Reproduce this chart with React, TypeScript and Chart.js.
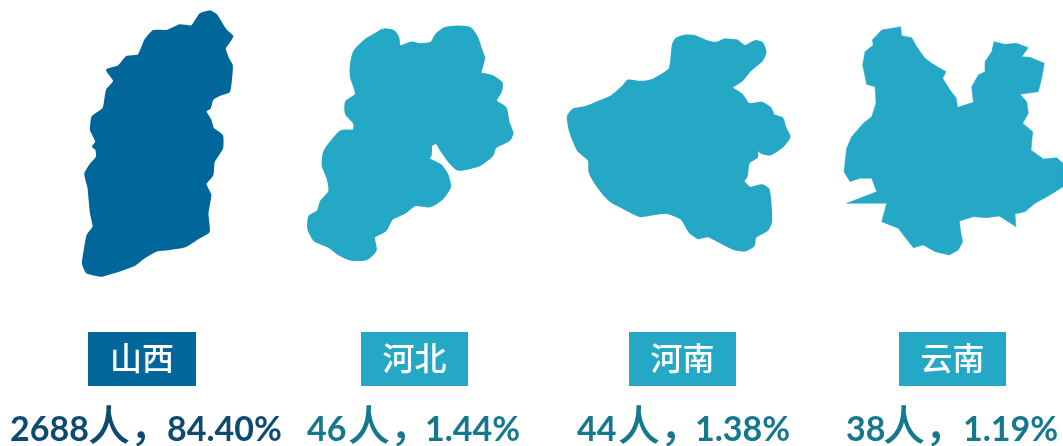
import React, { useEffect, useRef } from "react";
import { Chart, registerables } from "chart.js";

Chart.register(...registerables);

const provinces = ["山西", "河北", "河南", "云南"];
const counts = ["2688", "46", "44", "38"];
const units = ["人，", "人，", "人，", "人，"];
const percents = ["84.40%", "1.44%", "1.38%", "1.19%"];

type P = [number, number];
const shanxi: P[] = [[450,33],[470,45],[485,70],[500,92],[518,108],[505,130],[495,145],[505,175],[516,195],[515,225],[508,275],[480,285],[458,298],[450,325],[437,333],[452,360],[460,385],[487,407],[487,445],[462,485],[458,525],[437,552],[452,585],[443,640],[447,695],[415,715],[375,740],[330,748],[290,752],[250,775],[225,795],[170,815],[125,828],[80,818],[68,790],[75,740],[82,705],[100,680],[92,640],[88,600],[85,565],[75,522],[90,495],[110,470],[108,448],[98,440],[108,425],[92,390],[97,350],[130,325],[140,270],[162,243],[140,210],[175,198],[200,170],[235,165],[255,120],[280,92],[320,92],[360,75],[395,78],[420,42]];
const hebei: P[] = [[265,45],[295,50],[308,70],[312,97],[350,85],[375,90],[410,85],[425,60],[450,42],[490,37],[525,42],[545,70],[555,100],[565,130],[555,175],[590,185],[618,205],[615,230],[600,258],[630,280],[638,320],[650,355],[640,375],[600,395],[590,420],[550,450],[490,462],[465,440],[440,405],[425,382],[407,390],[405,420],[398,432],[435,452],[455,480],[463,515],[440,550],[405,572],[360,568],[330,590],[290,610],[270,645],[235,665],[240,705],[215,730],[170,732],[130,715],[105,695],[60,675],[42,640],[45,605],[70,590],[80,560],[105,530],[100,490],[85,450],[90,410],[115,375],[140,350],[177,348],[180,325],[155,295],[155,262],[185,238],[170,185],[170,150],[180,110],[215,75]];
const henan: P[] = [[375,33],[405,35],[440,50],[470,55],[495,45],[530,48],[555,65],[585,50],[605,55],[615,80],[605,105],[570,135],[545,165],[515,188],[545,210],[565,238],[605,235],[630,250],[640,272],[665,280],[675,310],[687,335],[665,365],[630,387],[605,382],[588,368],[590,395],[565,412],[558,455],[548,468],[570,490],[605,482],[625,495],[632,590],[620,615],[585,635],[580,660],[555,675],[520,670],[480,650],[445,632],[415,638],[390,620],[365,580],[320,562],[275,567],[240,572],[185,545],[150,525],[115,485],[90,440],[88,405],[55,375],[32,320],[25,275],[40,255],[75,248],[120,230],[155,215],[190,185],[205,168],[240,172],[280,165],[330,132],[340,60],[350,42]];
const yunnan: P[] = [[182,35],[185,62],[215,68],[230,95],[255,130],[275,145],[318,170],[308,190],[330,225],[348,248],[353,277],[400,262],[395,215],[415,180],[435,170],[435,140],[455,110],[462,80],[495,88],[530,85],[565,98],[545,125],[570,127],[613,145],[605,190],[595,230],[540,238],[560,260],[565,295],[548,325],[578,350],[573,405],[610,432],[650,428],[669,445],[669,515],[630,540],[585,565],[555,590],[525,597],[528,635],[478,603],[440,608],[400,605],[358,618],[362,650],[368,680],[355,705],[328,720],[285,710],[250,690],[220,698],[190,660],[175,640],[125,620],[140,565],[20,565],[110,530],[95,490],[60,490],[30,500],[12,470],[20,400],[35,365],[70,325],[95,305],[108,265],[105,215],[80,208],[68,150],[75,110],[100,90],[97,75],[125,45]];
const yunnanHoleA: P[] = [[48,373],[60,375],[58,384],[48,382]];
const yunnanHoleB: P[] = [[160,543],[170,545],[170,560],[161,558]];

const outlines = [shanxi, hebei, henan, yunnan, yunnanHoleA, yunnanHoleB];
const origins: P[] = [[60, 0], [295, 15], [560, 25], [840, 15], [840, 15], [840, 15]];
const fills = ["#016699", "#25A7C6", "#25A7C6", "#25A7C6", "#FFFFFF", "#FFFFFF"];
const statColors = ["#0C4A70", "#15788F", "#15788F", "#15788F"];
const tensions = [0.15, 0.2, 0.2, 0, 0, 0];
const strokes = [1.5, 3.5, 3, 0.5, 0, 0];
const boxes = [[88, 196], [361, 468], [629, 736], [899, 1006]];
const countX = [10, 307, 577, 846];
const unitX = [88, 348, 618, 883];
const percentX = [167, 425, 695, 963];

const labelPlugin = {
  id: "provinceLabels",
  afterDatasetsDraw(chart: any) {
    const { ctx, scales } = chart;
    const sx = scales.x;
    const sy = scales.y;
    ctx.save();
    provinces.forEach((name, i) => {
      const [a, b] = boxes[i];
      const l = sx.getPixelForValue(a);
      const r = sx.getPixelForValue(b);
      const t = sy.getPixelForValue(332);
      const bt = sy.getPixelForValue(386);
      ctx.fillStyle = fills[i];
      ctx.fillRect(l, t, r - l, bt - t);
      ctx.fillStyle = "#FFFFFF";
      ctx.font = '500 32px "Noto Sans CJK SC"';
      ctx.textAlign = "center";
      ctx.textBaseline = "middle";
      ctx.fillText(name, (l + r) / 2, (t + bt) / 2 - 1);
      const base = sy.getPixelForValue(441);
      ctx.fillStyle = statColors[i];
      ctx.textAlign = "left";
      ctx.textBaseline = "alphabetic";
      ctx.font = "700 34px Lato";
      ctx.fillText(counts[i], sx.getPixelForValue(countX[i]), base);
      ctx.fillText(percents[i], sx.getPixelForValue(percentX[i]), base);
      ctx.font = '500 42px "Noto Sans CJK SC"';
      ctx.fillText(units[i], sx.getPixelForValue(unitX[i]), base);
    });
    ctx.restore();
  },
};

export default function App() {
  const ref = useRef<HTMLCanvasElement>(null);
  useEffect(() => {
    document.body.style.margin = "0";
    const chart = new Chart(ref.current!, {
      type: "scatter",
      data: {
        datasets: outlines.map((o, i) => ({
          label: provinces[i] ?? "",
          data: o.concat([o[0]]).map(([x, y]) => ({ x: origins[i][0] + x / 3, y: origins[i][1] + y / 3 })),
          showLine: true,
          fill: "shape",
          backgroundColor: fills[i],
          borderColor: fills[i],
          borderWidth: strokes[i],
          borderJoinStyle: "round",
          pointRadius: 0,
          tension: tensions[i],
        })),
      },
      options: {
        animation: false,
        responsive: false,
        layout: { padding: 0 },
        plugins: { legend: { display: false }, tooltip: { enabled: false } },
        scales: {
          x: { type: "linear", min: 0, max: 1063, display: false },
          y: { type: "linear", min: 0, max: 446, reverse: true, display: false },
        },
      },
      plugins: [labelPlugin],
    } as any);
    return () => chart.destroy();
  }, []);
  return (
    <canvas
      ref={ref}
      width={1063}
      height={446}
      style={{ display: "block", width: 1063, height: 446, filter: "blur(0.6px)" }}
    />
  );
}
